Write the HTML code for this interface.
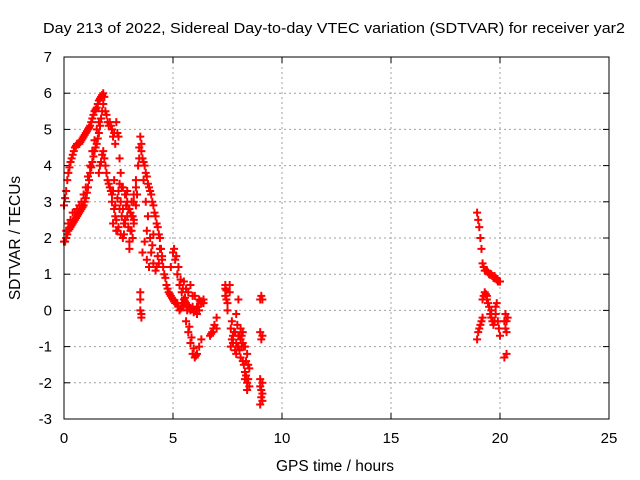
<!DOCTYPE html>
<html><head><meta charset="utf-8"><style>
body{margin:0;background:#fff;}
svg{display:block;font-family:"Liberation Sans",sans-serif;}
</style></head><body>
<svg id="chart" width="640" height="480" xmlns="http://www.w3.org/2000/svg">
<rect width="640" height="480" fill="#fff"/>
<text x="43" y="33" font-size="15" textLength="582" lengthAdjust="spacingAndGlyphs">Day 213 of 2022, Sidereal Day-to-day VTEC variation (SDTVAR) for receiver yar2</text>
<text x="335" y="471" font-size="15.5" text-anchor="middle">GPS time / hours</text>
<text x="20" y="238" font-size="15.5" text-anchor="middle" transform="rotate(-90 20 238)">SDTVAR / TECUs</text>
<g id="grid"></g><g id="ticks"></g><g id="marks"></g>
<rect x="64" y="57" width="545" height="362" fill="none" stroke="#000" stroke-width="1"/>
</svg>
<script>
const xTicks=[0,5,10,15,20,25];
const yTicks=[-3,-2,-1,0,1,2,3,4,5,6,7];
const hours=[0,0.05,0.1,0.2,0.3,0.4,0.5,0.6,0.7,0.8,0.9,1.0,1.1,1.2,1.3,1.4,1.5,1.6,1.7,1.8,
0.15,0.25,0.35,0.45,0.55,0.65,0.75,0.85,0.95,1.05,1.15,1.25,1.35,1.45,1.55,1.65,1.75,
0.1,0.2,0.3,0.4,0.5,0.6,0.7,0.8,0.9,1.0,1.1,1.2,1.3,1.4,1.5,1.6,
0,0.05,0.1,0.15,0.2,0.3,0.4,0.5,0.6,0.7,0.8,0.9,1.0,1.1,1.2,1.3,1.4,1.5,1.6,1.7,1.8,1.85,
0.25,0.35,0.45,0.55,0.65,0.75,0.85,0.95,1.05,1.15,1.25,1.35,1.45,1.55,1.65,1.75,
1.9,2.0,2.1,2.2,2.3,2.4,2.5,2.55,2.6,2.7,2.8,2.9,3.0,3.1,3.2,1.95,2.05,2.15,2.25,2.35,2.45,
2.2,2.3,2.4,2.5,2.6,2.7,2.8,2.9,3.0,3.1,3.2,3.3,2.3,2.5,2.7,2.9,3.1,3.3,2.4,2.6,2.8,3.0,3.2,
2.25,2.35,2.45,2.55,2.65,2.75,2.85,2.95,3.05,3.15,2.25,2.45,2.65,2.85,3.05,2.35,2.55,2.75,2.95,3.15,
1.6,1.7,1.8,1.9,2.0,2.1,2.2,1.65,1.75,1.85,1.95,2.05,2.15,
3.2,3.3,3.4,3.45,3.5,3.55,3.6,3.7,3.8,3.9,4.0,4.1,4.2,4.3,4.4,4.5,4.6,4.7,4.8,4.9,5.0,5.1,5.2,5.3,5.4,5.5,5.6,5.7,5.8,5.9,6.0,6.1,6.2,6.3,6.4,
3.35,3.45,3.55,3.65,3.75,3.85,3.95,4.05,4.15,4.25,4.35,4.45,4.55,4.65,4.75,4.85,4.95,5.05,5.15,5.25,5.35,5.45,5.55,5.65,5.75,5.85,5.95,6.05,6.15,6.25,
3.5,3.5,3.5,3.55,3.55,3.6,3.7,3.8,3.8,3.9,4.0,4.1,4.1,4.2,4.3,4.4,4.5,3.65,3.75,3.85,3.95,4.05,4.25,4.35,
4.9,5.0,5.05,5.1,5.2,5.3,5.4,5.5,5.6,5.7,5.8,5.9,6.0,6.1,6.2,6.3,5.15,5.25,5.35,5.45,5.55,5.65,5.75,5.85,5.95,6.05,
5.5,5.6,5.8,6.0,6.2,6.4,5.7,5.9,6.1,6.3,
6.7,6.8,6.9,7.0,7.0,7.4,7.4,7.5,7.5,7.4,6.75,6.85,7.45,7.45,
7.6,7.6,7.7,7.7,7.8,7.9,7.9,8.0,8.0,8.1,8.1,8.2,8.2,8.3,8.3,8.3,8.4,8.4,8.4,8.5,8.5,7.9,8.0,8.1,8.2,
7.65,7.75,7.85,7.95,8.05,8.15,8.25,8.35,8.45,7.65,7.75,7.85,7.95,8.05,8.15,8.25,8.35,8.45,
9.0,9.05,9.1,9.0,9.05,9.1,9.0,9.05,9.1,9.1,9.0,9.05,9.0,9.1,
18.95,19.0,19.05,19.1,19.15,19.2,19.3,19.4,19.5,19.6,19.7,19.8,19.9,20.0,19.25,19.35,19.45,19.55,19.65,19.75,19.85,19.95,
18.95,19.0,19.1,19.2,19.25,19.3,19.4,19.5,19.6,19.7,19.8,19.85,19.9,20.0,19.2,19.4,19.6,19.8,19.05,19.15,19.35,19.45,19.55,19.65,19.75,19.95,
20.2,20.25,20.3,20.3,20.2,20.3,20.25,20.35];
const values=[1.9,1.9,2.0,2.2,2.3,2.4,2.5,2.6,2.7,2.8,2.9,3.1,3.4,3.8,4.1,4.4,4.6,4.9,5.3,5.7,
2.1,2.25,2.35,2.45,2.55,2.65,2.75,2.85,3.0,3.25,3.6,3.95,4.25,4.5,4.75,5.1,5.5,
2.2,2.4,2.5,2.7,2.7,2.8,2.9,3.0,3.2,3.4,3.7,4.0,4.4,4.7,5.0,5.2,
2.9,3.1,3.3,3.6,3.8,4.1,4.3,4.5,4.6,4.6,4.7,4.8,4.9,5.0,5.1,5.3,5.5,5.6,5.8,5.9,6.0,5.9,
3.95,4.2,4.4,4.55,4.6,4.65,4.75,4.85,4.95,5.05,5.2,5.4,5.55,5.7,5.85,5.95,
5.5,5.2,5.2,5.0,4.9,5.2,4.8,4.2,3.8,3.4,3.2,3.0,2.8,2.6,2.4,5.4,5.1,5.1,4.8,4.6,4.9,
3.0,2.8,2.5,2.3,2.1,2.0,2.4,2.6,1.9,2.2,2.5,2.9,3.6,3.3,2.8,3.3,3.0,3.6,2.2,3.0,2.5,1.7,3.2,
3.3,2.6,2.2,2.8,3.4,2.4,2.9,2.3,2.7,2.0,2.4,3.1,2.6,3.2,2.2,2.9,3.5,2.1,2.8,2.6,
3.8,4.1,4.4,4.0,3.6,3.4,3.2,4.0,4.3,4.2,3.8,3.5,3.3,
3.0,3.4,4.0,4.5,4.8,4.4,4.2,4.0,3.7,3.4,3.2,2.9,2.6,2.3,2.0,1.5,1.0,0.7,0.5,0.4,0.3,0.2,0.2,0.0,0.1,0.3,0.2,0.1,0.0,0.1,0.0,-0.1,0.0,0.2,0.3,
3.2,4.2,4.6,4.1,3.8,3.5,3.3,3.0,2.7,2.4,2.1,1.7,1.2,0.9,0.6,0.45,0.35,0.25,0.2,0.1,0.05,0.2,0.25,0.15,0.05,0.05,-0.05,0.0,0.1,0.25,
0.5,0.3,0.0,-0.1,-0.2,1.6,1.9,2.2,1.4,1.2,1.6,2.1,1.3,1.1,1.5,1.7,1.4,3.6,3.0,2.6,2.0,1.8,1.2,1.3,
1.2,1.6,1.7,1.4,1.0,0.7,0.5,0.2,-0.3,-0.6,-0.9,-1.2,-1.3,-1.2,-1.0,-0.8,1.5,1.2,0.85,0.6,0.35,0.0,-0.45,-0.75,-1.05,-1.25,
0.8,0.6,0.7,0.4,0.3,0.2,0.5,0.4,0.1,0.25,
-0.7,-0.6,-0.4,-0.5,-0.2,0.7,0.4,0.2,0.0,0.6,-0.65,-0.5,0.55,0.3,
0.7,0.5,-0.3,-0.8,-0.6,-0.9,-1.2,-0.7,-1.0,-1.3,-0.8,-0.6,-1.4,-1.0,-1.7,-1.9,-1.2,-2.0,-2.2,-1.6,-2.1,-0.1,0.3,-0.5,-0.9,
-0.5,-0.9,-1.1,-1.0,-1.1,-1.0,-1.5,-1.8,-1.9,-1.0,-0.7,-0.6,-0.4,-0.7,-0.7,-1.0,-1.4,-1.5,
0.3,0.4,0.3,-0.6,-0.8,-0.7,-1.9,-2.2,-2.0,-2.5,-2.6,-2.4,-2.1,-2.3,
2.7,2.5,2.3,2.0,1.7,1.3,1.1,1.1,1.0,1.0,0.9,0.9,0.8,0.8,1.2,1.1,1.05,1.0,0.95,0.95,0.85,0.8,
-0.8,-0.6,-0.4,-0.2,0.4,0.5,0.3,0.1,-0.2,-0.4,-0.1,0.2,-0.3,-0.7,0.3,0.4,0.0,0.1,-0.5,-0.3,0.45,0.2,-0.1,-0.3,-0.3,-0.5,
-0.3,-0.1,-0.3,-0.6,-1.3,-1.2,-0.5,-0.2];
const X=h=>64+h*545/25, Y=v=>419-(v+3)*362/10;
const ns="http://www.w3.org/2000/svg";
const grid=document.getElementById('grid'),ticks=document.getElementById('ticks'),marks=document.getElementById('marks');
function mk(tag,attrs,parent){const e=document.createElementNS(ns,tag);for(const k in attrs)e.setAttribute(k,attrs[k]);parent.appendChild(e);return e;}
xTicks.forEach(t=>{const x=X(t);
 if(t>0&&t<25){const g=mk('line',{x1:x,y1:57,x2:x,y2:419,stroke:'#a0a0a0','stroke-dasharray':'2,3'},grid);}
 mk('line',{x1:x,y1:419,x2:x,y2:413,stroke:'#000'},ticks);mk('line',{x1:x,y1:57,x2:x,y2:63,stroke:'#000'},ticks);
 const l=mk('text',{x:x,y:443,'font-size':15,'text-anchor':'middle'},ticks);l.textContent=t;
 });
yTicks.forEach(t=>{const y=Y(t);
 if(t>-3&&t<7){const g=mk('line',{x1:64,y1:y,x2:609,y2:y,stroke:'#a0a0a0','stroke-dasharray':'2,3'},grid);}
 mk('line',{x1:64,y1:y,x2:70,y2:y,stroke:'#000'},ticks);mk('line',{x1:609,y1:y,x2:603,y2:y,stroke:'#000'},ticks);
 const l=mk('text',{x:52,y:y+5,'font-size':15,'text-anchor':'end'},ticks);l.textContent=t;
 });
hours.forEach((h,i)=>{const x=X(h),y=Y(values[i]);
 const p=mk('path',{d:`M${x-4},${y}h8M${x},${y-4}v8`,stroke:'#f00','stroke-width':2},marks);
 
 });
</script>
</body></html>
